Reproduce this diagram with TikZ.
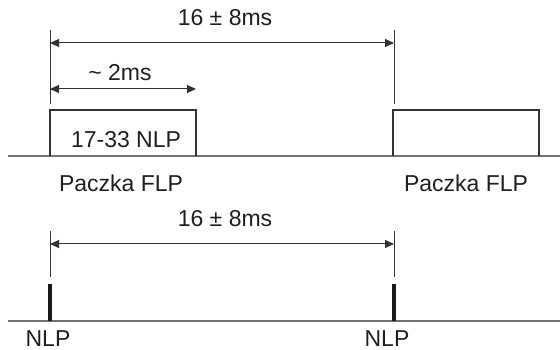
\documentclass[tikz,border=0pt]{standalone}
\usepackage{fontspec}
\setmainfont{Liberation Sans}
\usetikzlibrary{arrows.meta, positioning}
\definecolor{basegray}{rgb}{0.45, 0.45, 0.45}
\definecolor{pulsegray}{rgb}{0.2, 0.2, 0.2}
\definecolor{textgray}{rgb}{0.12, 0.12, 0.12}
\tikzstyle{axis} = [draw=basegray, line width=1.5pt]
\tikzstyle{pulse} = [draw=pulsegray, line width=2pt]
\tikzstyle{marker} = [draw=pulsegray, line width=1pt]
\tikzstyle{span} = [draw=pulsegray, line width=1pt, {Triangle[length=9pt,width=8pt]}-{Triangle[length=9pt,width=8pt]}]
\tikzstyle{nlpbar} = [draw=black!90, line width=4pt]
\tikzstyle{txt} = [font=\fontsize{23}{25}\selectfont, inner sep=0pt, text=textgray]

\begin{document}
\begin{tikzpicture}[x=1pt, y=1pt]
\useasboundingbox (0,0) rectangle (560,350);

% FLP bursts
\coordinate (topL) at (8,194);
\coordinate (topR) at (560,194);
\coordinate (burstA1) at (50,194);
\coordinate (burstA2) at (196,194);
\coordinate (burstB1) at (393,194);
\coordinate (burstB2) at (539,194);
\draw [axis] (topL) -- (topR);
\draw [pulse] (burstA1) -- ++(0,46) -| (burstA2);
\draw [pulse] (burstB1) -- ++(0,46) -| (burstB2);

\coordinate (tickA) at (50,320);
\coordinate (tickAend) at (50,246);
\coordinate (tickB) at (394,320);
\coordinate (tickBend) at (394,246);
\draw [marker] (tickA) -- (tickAend);
\draw [marker] (tickB) -- (tickBend);

\coordinate (periodA) at (50,307);
\coordinate (periodB) at (394,307);
\coordinate (widthA) at (50,261);
\coordinate (widthB) at (196,261);
\draw [span] (periodA) -- (periodB);
\draw [span] (widthA) -- (widthB);

% Labels
\node (periodtop) [txt] at (225,332) {16 ± 8ms};
\node (widthlbl) [txt] at (120,277) {\textasciitilde{} 2ms};
\node (count) [txt] at (126,210) {17-33 NLP};
\node (burstlblA) [txt] at (121,167) {Paczka FLP};
\node (burstlblB) [txt] at (466,167) {Paczka FLP};

% NLP pulses
\coordinate (botL) at (8,29);
\coordinate (botR) at (560,29);
\coordinate (nlpA) at (50,29);
\coordinate (nlpB) at (394,29);
\draw [axis] (botL) -- (botR);
\draw [nlpbar] (nlpA) -- ++(0,37);
\draw [nlpbar] (nlpB) -- ++(0,37);

\coordinate (tickC) at (50,119);
\coordinate (tickCend) at (50,73);
\coordinate (tickD) at (394,119);
\coordinate (tickDend) at (394,73);
\draw [marker] (tickC) -- (tickCend);
\draw [marker] (tickD) -- (tickDend);

\coordinate (periodC) at (50,106);
\coordinate (periodD) at (394,106);
\draw [span] (periodC) -- (periodD);

\node (periodbot) [txt] at (225,131) {16 ± 8ms};
\node (nlplblA) [txt] at (48,11.5) {NLP};
\node (nlplblB) [txt] at (387,11.5) {NLP};

\end{tikzpicture}
\end{document}
